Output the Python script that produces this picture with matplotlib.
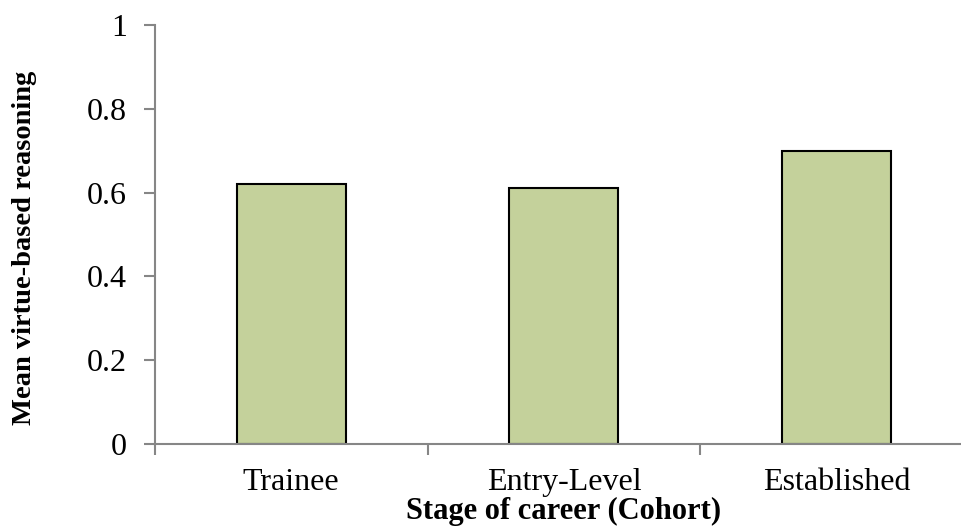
import numpy as np
import matplotlib.pyplot as plt

# Data
cohorts = ['Trainee', 'Entry-Level', 'Established']
mean_virtue = [0.62, 0.61, 0.70]

plt.rcParams['font.family'] = ['Liberation Serif', 'DejaVu Serif']

fig = plt.figure(figsize=(9.62, 5.27), dpi=100)
ax = fig.add_axes([0.161, 0.1575, 0.8504, 0.7951])

x = np.arange(len(cohorts))
ax.bar(x, mean_virtue, width=0.40, color='#c4d19b', edgecolor='black', linewidth=1.5)

ax.set_xlim(-0.5, len(cohorts) - 0.5)
ax.set_ylim(0, 1)
ax.set_yticks([0, 0.2, 0.4, 0.6, 0.8, 1.0])
ax.set_yticklabels(['0', '0.2', '0.4', '0.6', '0.8', '1'])

ax.set_xticks(x)
ax.set_xticklabels(cohorts)
ax.set_xticks(np.arange(len(cohorts) + 1) - 0.5, minor=True)
ax.tick_params(axis='x', which='major', length=0, pad=17, labelsize=23)
ax.tick_params(axis='x', which='minor', length=8, width=1.5, color='#868686', direction='out')
ax.tick_params(axis='y', length=8, width=1.5, color='#868686', direction='out', pad=12, labelsize=23)

for s in ['top', 'right']:
    ax.spines[s].set_visible(False)
for s in ['left', 'bottom']:
    ax.spines[s].set_color('#868686')
    ax.spines[s].set_linewidth(1.5)

ax.set_xlabel('Stage of career (Cohort)', fontsize=22, fontweight='bold', labelpad=0)
ax.set_ylabel('Mean virtue-based reasoning', fontsize=20.5, fontweight='bold')
ax.yaxis.set_label_coords(-0.144, 0.469)

fig.savefig('out.png', dpi=100)
